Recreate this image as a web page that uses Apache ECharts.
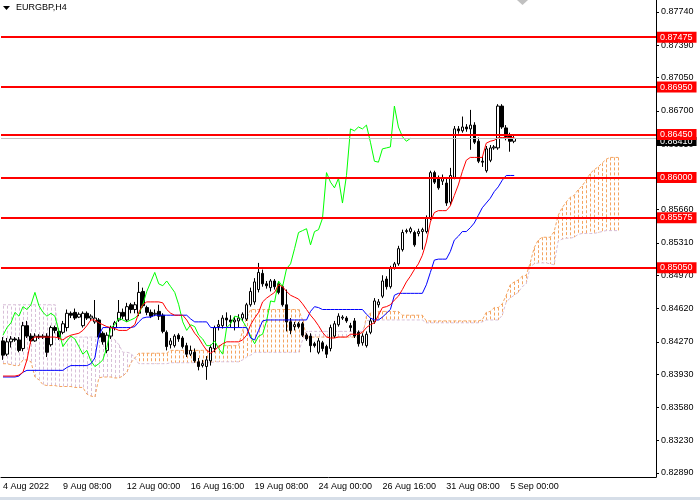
<!DOCTYPE html>
<html>
<head>
<meta charset="UTF-8">
<script src="https://cdn.jsdelivr.net/npm/echarts@6/dist/echarts.min.js"></script>
<title>EURGBP,H4</title>
</head>
<body style="margin:0;background:#ffffff">
<div id="chart" style="width:700px;height:500px;"></div>
<script>
// H4 candles, index 0 = 4 Aug 2022 20:00, last = 5 Sep 2022 04:00
var candleOpen = [
  0.8428,0.8414,0.8427,0.8430,0.8429,0.8420,0.8444,0.8433,0.8428,0.8433,
  0.8432,0.8433,0.8424,0.8442,0.8438,0.8437,0.8442,0.8457,0.8458,0.8453,
  0.8444,0.8457,0.8452,0.8448,0.8450,0.8436,0.8418,0.8433,0.8442,0.8450,
  0.8458,0.8450,0.8466,0.8461,0.8457,0.8480,0.8463,0.8458,0.8456,0.8459,
  0.8455,0.8437,0.8424,0.8423,0.8434,0.8431,0.8423,0.8414,0.8416,0.8406,
  0.8402,0.8401,0.8407,0.8420,0.8443,0.8444,0.8452,0.8450,0.8448,0.8449,
  0.8452,0.8451,0.8466,0.8469,0.8482,0.8499,0.8488,0.8484,0.8491,0.8488,
  0.8485,0.8466,0.8448,0.8443,0.8446,0.8446,0.8434,0.8433,0.8425,0.8416,
  0.8426,0.8422,0.8420,0.8433,0.8445,0.8452,0.8452,0.8444,0.8449,0.8437,
  0.8426,0.8423,0.8437,0.8448,0.8466,0.8475,0.8493,0.8485,0.8505,0.8509,
  0.8524,0.8543,0.8543,0.8542,0.8541,0.8543,0.8543,0.8557,0.8605,0.8599,
  0.8596,0.8594,0.8574,0.8600,0.8651,0.8649,0.8653,0.8651,0.8655,0.8638,
  0.8617,0.8607,0.8618,0.8631,0.8631,0.8675,0.8652,0.8644,0.8638
];
var candleClose = [
  0.8413,0.8427,0.8430,0.8429,0.8418,0.8444,0.8433,0.8428,0.8433,0.8432,
  0.8433,0.8416,0.8442,0.8439,0.8432,0.8446,0.8457,0.8455,0.8452,0.8456,
  0.8457,0.8452,0.8454,0.8452,0.8432,0.8427,0.8434,0.8442,0.8447,0.8458,
  0.8454,0.8464,0.8461,0.8466,0.8479,0.8465,0.8458,0.8454,0.8457,0.8454,
  0.8438,0.8422,0.8428,0.8433,0.8430,0.8422,0.8414,0.8418,0.8407,0.8401,
  0.8404,0.8408,0.8421,0.8442,0.8445,0.8452,0.8450,0.8448,0.8450,0.8452,
  0.8456,0.8466,0.8480,0.8490,0.8500,0.8488,0.8486,0.8491,0.8485,0.8479,
  0.8466,0.8448,0.8439,0.8445,0.8443,0.8434,0.8430,0.8423,0.8423,0.8428,
  0.8420,0.8414,0.8442,0.8446,0.8454,0.8453,0.8449,0.8442,0.8433,0.8425,
  0.8433,0.8435,0.8449,0.8470,0.8469,0.8491,0.8485,0.8504,0.8509,0.8525,
  0.8542,0.8544,0.8546,0.8529,0.8543,0.8545,0.8557,0.8605,0.8595,0.8589,
  0.8599,0.8573,0.8602,0.8651,0.8649,0.8653,0.8651,0.8655,0.8637,0.8617,
  0.8616,0.8630,0.8631,0.8632,0.8675,0.8653,0.8643,0.8638,0.8641
];
var candleHigh = [
  0.8432,0.8431,0.8433,0.8432,0.8432,0.8448,0.8449,0.8436,0.8436,0.8435,
  0.8435,0.8436,0.8444,0.8444,0.8441,0.8449,0.8461,0.8459,0.8462,0.8458,
  0.8459,0.8459,0.8456,0.8471,0.8452,0.8438,0.8437,0.8444,0.8449,0.8471,
  0.8462,0.8468,0.8468,0.8469,0.8490,0.8484,0.8465,0.8461,0.8461,0.8466,
  0.8457,0.8439,0.8431,0.8435,0.8436,0.8433,0.8426,0.8423,0.8420,0.8410,
  0.8408,0.8412,0.8424,0.8444,0.8450,0.8455,0.8458,0.8455,0.8453,0.8456,
  0.8458,0.8468,0.8484,0.8494,0.8510,0.8503,0.8491,0.8493,0.8493,0.8491,
  0.8487,0.8482,0.8452,0.8448,0.8448,0.8448,0.8436,0.8436,0.8427,0.8431,
  0.8428,0.8424,0.8445,0.8449,0.8457,0.8455,0.8454,0.8447,0.8452,0.8439,
  0.8436,0.8438,0.8452,0.8473,0.8472,0.8497,0.8496,0.8507,0.8511,0.8528,
  0.8545,0.8546,0.8548,0.8544,0.8546,0.8547,0.8560,0.8607,0.8607,0.8602,
  0.8603,0.8599,0.8610,0.8654,0.8654,0.8664,0.8656,0.8671,0.8658,0.8642,
  0.8622,0.8633,0.8634,0.8634,0.8677,0.8677,0.8655,0.8647,0.8644
];
var candleLow = [
  0.8408,0.8412,0.8421,0.8427,0.8416,0.8417,0.8431,0.8425,0.8427,0.8430,
  0.8430,0.8411,0.8422,0.8436,0.8429,0.8435,0.8438,0.8452,0.8450,0.8452,
  0.8442,0.8450,0.8450,0.8446,0.8430,0.8424,0.8415,0.8430,0.8439,0.8448,
  0.8451,0.8448,0.8457,0.8457,0.8454,0.8463,0.8455,0.8452,0.8454,0.8450,
  0.8436,0.8418,0.8420,0.8421,0.8427,0.8420,0.8411,0.8412,0.8405,0.8397,
  0.8400,0.8387,0.8402,0.8416,0.8439,0.8441,0.8443,0.8442,0.8439,0.8442,
  0.8449,0.8449,0.8464,0.8466,0.8479,0.8485,0.8483,0.8480,0.8482,0.8477,
  0.8464,0.8438,0.8435,0.8439,0.8441,0.8432,0.8428,0.8416,0.8421,0.8414,
  0.8417,0.8410,0.8417,0.8431,0.8443,0.8450,0.8447,0.8438,0.8431,0.8422,
  0.8423,0.8421,0.8435,0.8446,0.8463,0.8473,0.8482,0.8483,0.8503,0.8507,
  0.8522,0.8541,0.8541,0.8527,0.8538,0.8524,0.8541,0.8555,0.8593,0.8587,
  0.8592,0.8570,0.8571,0.8598,0.8646,0.8647,0.8648,0.8629,0.8635,0.8615,
  0.8611,0.8605,0.8616,0.8629,0.8629,0.8651,0.8639,0.8627,0.8636
];

// Ichimoku lines
var tenkan = [
  0.8391,0.8391,0.8391,0.8391,0.8392,0.8395,0.8408,0.8429,0.8432,0.8432,
  0.8432,0.8432,0.8432,0.8432,0.8431,0.8429,0.8432,0.8434,0.8435,0.8436,
  0.8439,0.8444,0.8450,0.8450,0.8447,0.8445,0.8443,0.8442,0.8441,0.8439,
  0.8439,0.8439,0.8442,0.8445,0.8458,0.8466,0.8469,0.8469,0.8469,0.8469,
  0.8468,0.8461,0.8457,0.8455,0.8455,0.8455,0.8450,0.8443,0.8436,0.8431,
  0.8424,0.8418,0.8415,0.8418,0.8422,0.8425,0.8427,0.8427,0.8427,0.8427,
  0.8429,0.8434,0.8445,0.8452,0.8458,0.8469,0.8473,0.8476,0.8479,0.8487,
  0.8485,0.8480,0.8476,0.8474,0.8472,0.8467,0.8461,0.8455,0.8450,0.8444,
  0.8437,0.8432,0.8431,0.8431,0.8432,0.8432,0.8432,0.8435,0.8435,0.8435,
  0.8437,0.8442,0.8445,0.8447,0.8455,0.8463,0.8464,0.8466,0.8471,0.8475,
  0.8482,0.8490,0.8496,0.8503,0.8509,0.8518,0.8532,0.8553,0.8563,0.8565,
  0.8565,0.8565,0.8570,0.8581,0.8592,0.8606,0.8618,0.8621,0.8621,0.8621,
  0.8621,0.8636,0.8638,0.8639,0.8642,0.8642,0.8642,0.8642,0.8642
];
var kijun = [
  0.8390,0.8390,0.8390,0.8390,0.8391,0.8395,0.8397,0.8397,0.8397,0.8397,
  0.8397,0.8397,0.8397,0.8397,0.8397,0.8397,0.8400,0.8402,0.8402,0.8402,
  0.8402,0.8402,0.8404,0.8410,0.8434,0.8442,0.8442,0.8442,0.8442,0.8442,
  0.8442,0.8442,0.8442,0.8443,0.8448,0.8452,0.8453,0.8453,0.8455,0.8455,
  0.8455,0.8455,0.8455,0.8455,0.8455,0.8455,0.8455,0.8451,0.8448,0.8448,
  0.8448,0.8448,0.8442,0.8442,0.8442,0.8442,0.8442,0.8442,0.8442,0.8442,
  0.8442,0.8442,0.8431,0.8429,0.8439,0.8449,0.8450,0.8450,0.8450,0.8450,
  0.8450,0.8450,0.8450,0.8450,0.8450,0.8450,0.8450,0.8459,0.8464,0.8463,
  0.8461,0.8461,0.8461,0.8461,0.8461,0.8461,0.8461,0.8461,0.8461,0.8461,
  0.8461,0.8456,0.8452,0.8450,0.8450,0.8453,0.8457,0.8461,0.8476,0.8478,
  0.8478,0.8478,0.8478,0.8478,0.8478,0.8478,0.8487,0.8500,0.8513,0.8514,
  0.8514,0.8514,0.8522,0.8534,0.8538,0.8543,0.8543,0.8547,0.8552,0.8560,
  0.8568,0.8573,0.8578,0.8585,0.8590,0.8597,0.8602,0.8602,0.8602
];
// cloud, runs 26 bars past the last candle
var spanA = [
  0.8404,0.8404,0.8403,0.8402,0.8402,0.8408,0.8408,0.8406,0.8390,0.8387,
  0.8382,0.8381,0.8381,0.8381,0.8380,0.8380,0.8380,0.8380,0.8379,0.8379,
  0.8379,0.8372,0.8370,0.8369,0.8389,0.8390,0.8390,0.8390,0.8389,0.8389,
  0.8391,0.8395,0.8405,0.8410,0.8415,0.8415,0.8415,0.8415,0.8415,0.8415,
  0.8415,0.8415,0.8418,0.8418,0.8418,0.8418,0.8418,0.8418,0.8418,0.8418,
  0.8418,0.8418,0.8418,0.8423,0.8423,0.8423,0.8423,0.8423,0.8423,0.8423,
  0.8439,0.8452,0.8461,0.8461,0.8461,0.8461,0.8461,0.8461,0.8461,0.8461,
  0.8461,0.8461,0.8461,0.8461,0.8461,0.8450,0.8432,0.8432,0.8432,0.8432,
  0.8432,0.8432,0.8432,0.8432,0.8432,0.8432,0.8432,0.8432,0.8432,0.8432,
  0.8432,0.8454,0.8457,0.8459,0.8459,0.8459,0.8459,0.8459,0.8459,0.8459,
  0.8455,0.8455,0.8455,0.8455,0.8455,0.8455,0.8449,0.8449,0.8449,0.8449,
  0.8449,0.8449,0.8449,0.8449,0.8449,0.8449,0.8449,0.8449,0.8449,0.8449,
  0.8450,0.8458,0.8459,0.8463,0.8463,0.8467,0.8476,0.8487,0.8490,0.8492,
  0.8496,0.8497,0.8510,0.8526,0.8534,0.8537,0.8537,0.8537,0.8543,0.8560,
  0.8568,0.8574,0.8579,0.8581,0.8587,0.8591,0.8597,0.8604,0.8608,0.8611,
  0.8615,0.8619,0.8621,0.8621,0.8621
];
var spanB = [
  0.8466,0.8466,0.8466,0.8466,0.8466,0.8466,0.8466,0.8466,0.8466,0.8466,
  0.8466,0.8466,0.8466,0.8466,0.8432,0.8432,0.8432,0.8432,0.8432,0.8432,
  0.8432,0.8432,0.8432,0.8432,0.8432,0.8432,0.8432,0.8432,0.8429,0.8424,
  0.8416,0.8416,0.8415,0.8410,0.8404,0.8404,0.8404,0.8404,0.8404,0.8404,
  0.8404,0.8404,0.8405,0.8405,0.8405,0.8405,0.8405,0.8405,0.8405,0.8405,
  0.8405,0.8405,0.8405,0.8406,0.8406,0.8406,0.8406,0.8406,0.8406,0.8406,
  0.8408,0.8411,0.8413,0.8416,0.8416,0.8416,0.8416,0.8416,0.8416,0.8416,
  0.8416,0.8416,0.8416,0.8416,0.8416,0.8429,0.8438,0.8438,0.8438,0.8438,
  0.8438,0.8438,0.8438,0.8438,0.8438,0.8438,0.8438,0.8438,0.8438,0.8438,
  0.8438,0.8449,0.8450,0.8450,0.8450,0.8450,0.8450,0.8450,0.8450,0.8450,
  0.8450,0.8450,0.8450,0.8450,0.8450,0.8450,0.8447,0.8447,0.8447,0.8447,
  0.8447,0.8447,0.8447,0.8447,0.8447,0.8447,0.8447,0.8447,0.8447,0.8447,
  0.8448,0.8450,0.8450,0.8450,0.8450,0.8455,0.8469,0.8473,0.8476,0.8479,
  0.8485,0.8488,0.8506,0.8509,0.8510,0.8510,0.8510,0.8509,0.8508,0.8533,
  0.8535,0.8536,0.8536,0.8537,0.8540,0.8541,0.8541,0.8541,0.8541,0.8542,
  0.8543,0.8544,0.8544,0.8544,0.8544
];

var levels = [0.87475, 0.86950, 0.86450, 0.86000, 0.85575, 0.85050];
var priceTicks = [0.87740, 0.87390, 0.87050, 0.86700, 0.86350, 0.86000, 0.85660, 0.85310,
                  0.84970, 0.84620, 0.84270, 0.83930, 0.83580, 0.83230, 0.82890];
var timeTickIdx = [0, 15, 31, 47, 63, 79, 95, 111, 127];
var timeTickText = ['4 Aug 2022', '9 Aug 08:00', '12 Aug 00:00', '16 Aug 16:00', '19 Aug 08:00',
                    '24 Aug 00:00', '26 Aug 16:00', '31 Aug 08:00', '5 Sep 00:00'];

var SLOTS = 164;
var cats = [];
for (var i = 0; i < SLOTS; i++) cats.push(String(i));

var ohlc = [];
for (var i = 0; i < candleOpen.length; i++) {
    ohlc.push([candleOpen[i], candleClose[i], candleLow[i], candleHigh[i]]);
}
// chikou = close drawn 26 bars back
var chikou = candleClose.slice(26);
var cloud = [];
for (var i = 0; i < spanA.length; i++) cloud.push([i, spanA[i], spanB[i]]);

var lastPrice = candleClose[candleClose.length - 1];
var FONT = 'Liberation Sans';

// current price first so the red level labels sit on top of it
var levelLines = [{
    yAxis: lastPrice,
    lineStyle: {color: '#c0c0c0', width: 1, type: 'solid'},
    label: {backgroundColor: '#000000', color: '#ffffff', padding: [0, 4, 0, 3], lineHeight: 9, offset: [0, 3]}
}];
levels.forEach(function (v) {
    levelLines.push({
        yAxis: v,
        lineStyle: {color: '#ff0000', width: 2, type: 'solid'},
        label: {backgroundColor: '#ff0000', color: '#ffffff'}
    });
});

var chart = echarts.init(document.getElementById('chart'));
chart.setOption({
    animation: false,
    backgroundColor: '#ffffff',
    grid: {left: 0, right: 44, top: 0, bottom: 23},
    xAxis: {
        type: 'category',
        data: cats,
        boundaryGap: true,
        axisLine: {lineStyle: {color: '#000', width: 1}},
        axisTick: {
            alignWithLabel: true, length: 3, lineStyle: {color: '#000'},
            interval: function (idx) { return timeTickIdx.indexOf(idx) >= 0; }
        },
        axisLabel: {
            interval: function (idx) { return timeTickIdx.indexOf(idx) >= 0; },
            formatter: function (val, idx) {
                var j = timeTickIdx.indexOf(Number(val));
                return j >= 0 ? timeTickText[j] : '';
            },
            align: 'left', margin: 5, color: '#000', fontSize: 9, fontFamily: FONT
        },
        splitLine: {show: false}
    },
    yAxis: {
        type: 'value',
        position: 'right',
        min: 0.82848,
        max: 0.87866,
        scale: true,
        axisLine: {show: true, lineStyle: {color: '#000', width: 1}},
        axisTick: {show: true, length: 3, lineStyle: {color: '#000'}, customValues: priceTicks},
        axisLabel: {
            customValues: priceTicks,
            formatter: function (v) { return v.toFixed(5); },
            color: '#000', fontSize: 9, fontFamily: FONT, margin: 5
        },
        splitLine: {show: false}
    },
    graphic: [
        {type: 'polygon', shape: {points: [[3, 6], [10, 6], [6.5, 10]]}, style: {fill: '#000'}},
        {type: 'text', left: 16, top: 3, style: {text: 'EURGBP,H4', fill: '#000', font: '9px "Liberation Sans"'}},
        {type: 'polygon', shape: {points: [[517, 0], [528, 0], [522.5, 5]]}, style: {fill: '#c0c0c0'}},
        {type: 'rect', shape: {x: 0, y: 497, width: 700, height: 3}, style: {fill: '#d6dee8'}}
    ],
    series: [
        {
            type: 'custom',
            name: 'cloud',
            z: 1,
            silent: true,
            data: cloud,
            encode: {x: 0, y: [1, 2]},
            renderItem: function (params, api) {
                var a = api.value(1), b = api.value(2);
                var p1 = api.coord([api.value(0), a]);
                var p2 = api.coord([api.value(0), b]);
                var x = Math.round(p1[0]) + 0.5;
                return {
                    type: 'line',
                    shape: {x1: x, y1: p1[1], x2: x, y2: p2[1]},
                    style: {stroke: a >= b ? '#f4a460' : '#d8bfd8', lineWidth: 1, lineDash: [3, 2]}
                };
            }
        },
        {
            type: 'line', name: 'Senkou A', data: spanA, z: 1, silent: true,
            showSymbol: false, lineStyle: {color: '#f4a460', width: 1, type: [3, 2]}
        },
        {
            type: 'line', name: 'Senkou B', data: spanB, z: 1, silent: true,
            showSymbol: false, lineStyle: {color: '#d8bfd8', width: 1, type: [3, 2]}
        },
        {
            type: 'candlestick', name: 'EURGBP', data: ohlc, z: 2, silent: true,
            barWidth: 3,
            itemStyle: {color: '#ffffff', color0: '#000000', borderColor: '#000000', borderColor0: '#000000', borderWidth: 1}
        },
        {
            type: 'line', name: 'Chikou', data: chikou, z: 3, silent: true,
            showSymbol: false, lineStyle: {color: '#00ff00', width: 1}
        },
        {
            type: 'line', name: 'Kijun', data: kijun, z: 3, silent: true,
            showSymbol: false, lineStyle: {color: '#0000ff', width: 1}
        },
        {
            type: 'line', name: 'Tenkan', data: tenkan, z: 4, silent: true,
            showSymbol: false, lineStyle: {color: '#ff0000', width: 1},
            markLine: {
                silent: true,
                precision: 5,
                symbol: ['none', 'none'],
                animation: false,
                label: {
                    position: 'end', distance: 1,
                    formatter: function (p) { return Number(p.value).toFixed(5); },
                    fontSize: 9, fontFamily: FONT, padding: [1, 4, 0, 3], lineHeight: 10
                },
                emphasis: {disabled: true},
                data: levelLines
            }
        }
    ]
});
</script>
</body>
</html>
